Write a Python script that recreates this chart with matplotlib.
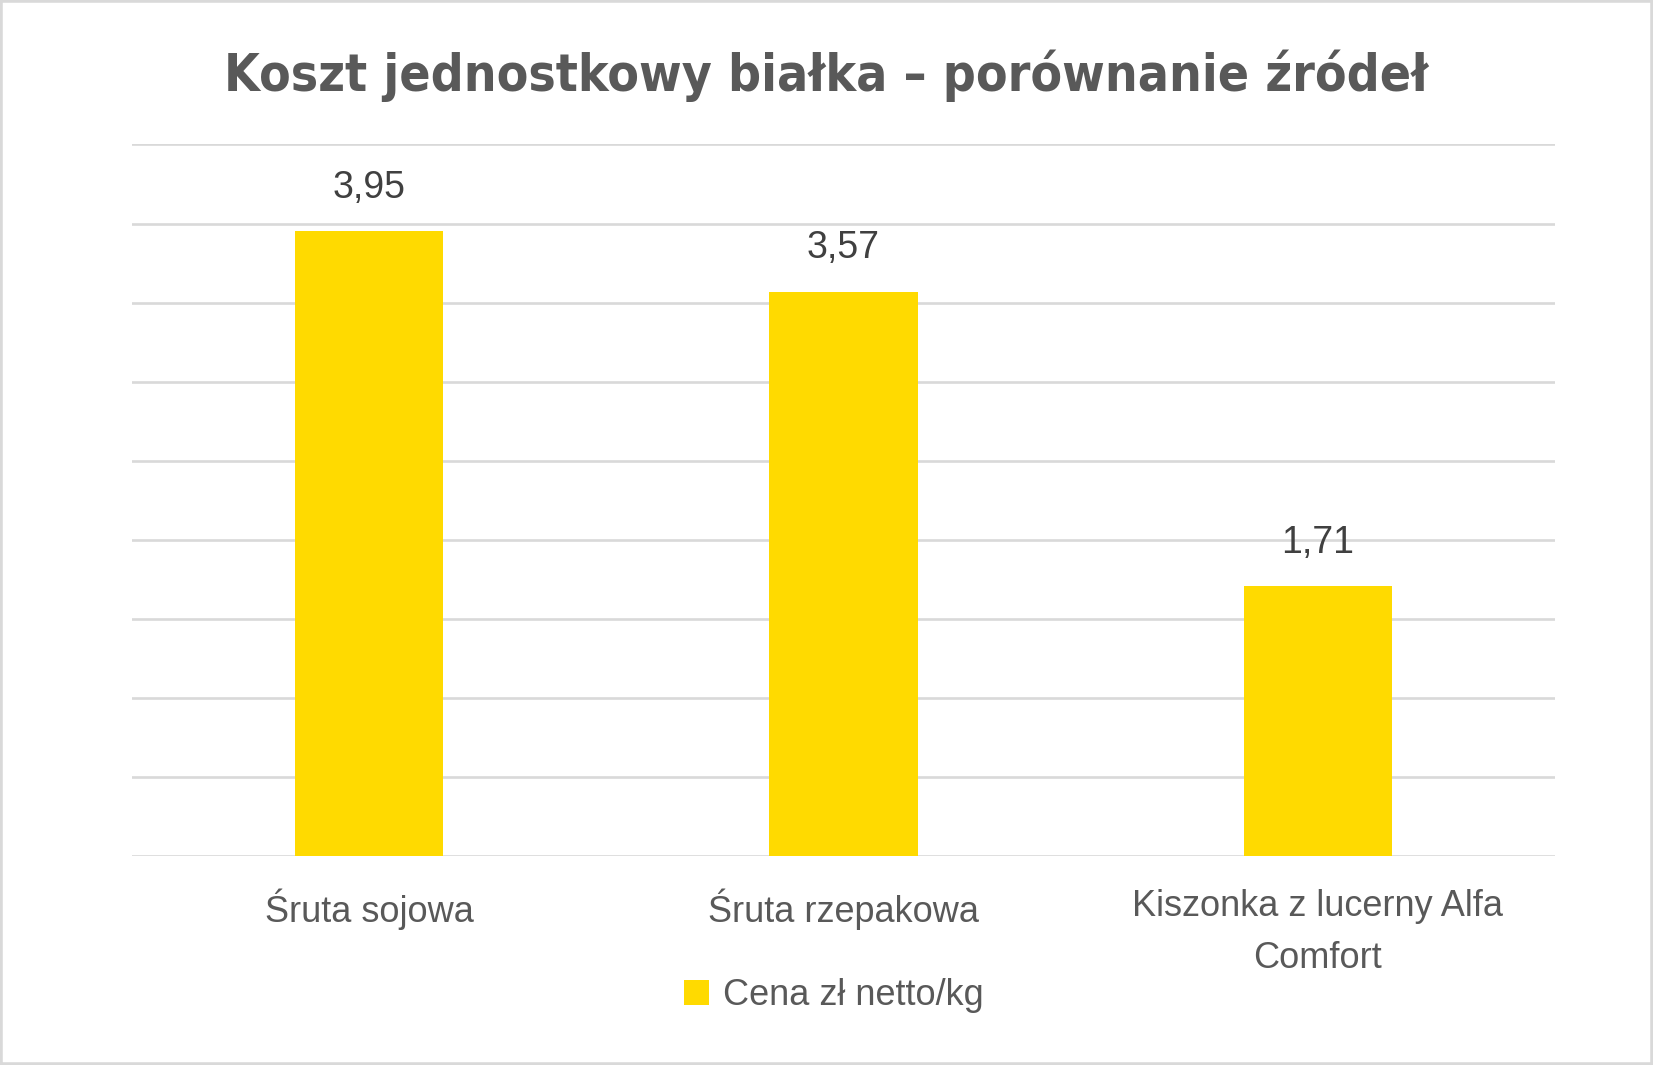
import matplotlib.pyplot as plt
from matplotlib.patches import Rectangle
import numpy as np

# Data
categories = ["Śruta sojowa", "Śruta rzepakowa", "Kiszonka z lucerny Alfa\nComfort"]
prices = [3.95, 3.57, 1.71]
value_labels = ["3,95", "3,57", "1,71"]
series_name = "Cena zł netto/kg"
title = "Koszt jednostkowy białka – porównanie źródeł"

bar_color = "#FFDA00"
grid_color = "#D9D9D9"
title_color = "#595959"
text_color = "#595959"
label_color = "#404040"

fig = plt.figure(figsize=(16.53, 10.65), dpi=100)
ax = fig.add_axes([0.0797, 0.196, 0.861, 0.6684])

x = np.arange(len(categories))
bars = ax.bar(x, prices, width=0.313, color=bar_color, zorder=3, label=series_name)

ax.set_xlim(-0.5, len(categories) - 0.5)
ax.set_ylim(0, 4.5)
ax.set_yticks(np.arange(0, 4.51, 0.5))
ax.yaxis.grid(True, color=grid_color, linewidth=1.9, zorder=0)
ax.tick_params(axis='y', left=False, labelleft=False)
ax.tick_params(axis='x', bottom=False, pad=20)
for s in ax.spines.values():
    s.set_visible(False)

ax.set_xticks(x)
ax.set_xticklabels(categories, fontsize=26, color=text_color,
                   family=['Liberation Sans', 'DejaVu Sans'], linespacing=1.65)

for xi, v, lab in zip(x, prices, value_labels):
    ax.annotate(lab, (xi, v), xytext=(0, 31), textcoords='offset points',
                ha='center', va='center', fontsize=27, color=label_color,
                family=['Liberation Sans', 'DejaVu Sans'])

fig.text(0.5, 0.929, title, ha='center', va='center', fontsize=37,
         fontweight='bold', fontstretch='condensed', color=title_color,
         family=['DejaVu Sans'])

leg = fig.legend(handles=[bars], labels=[series_name], loc='center',
                 bbox_to_anchor=(0.5045, 0.065), frameon=False,
                 prop={'family': ['Liberation Sans', 'DejaVu Sans'], 'size': 26},
                 handlelength=0.7, handleheight=0.7, handletextpad=0.4)
for t in leg.get_texts():
    t.set_color(text_color)

fig.patches.append(Rectangle((0, 0), 1, 1, transform=fig.transFigure,
                             fill=False, edgecolor=grid_color, linewidth=4))

fig.savefig("out.png", dpi=100, facecolor='white')
